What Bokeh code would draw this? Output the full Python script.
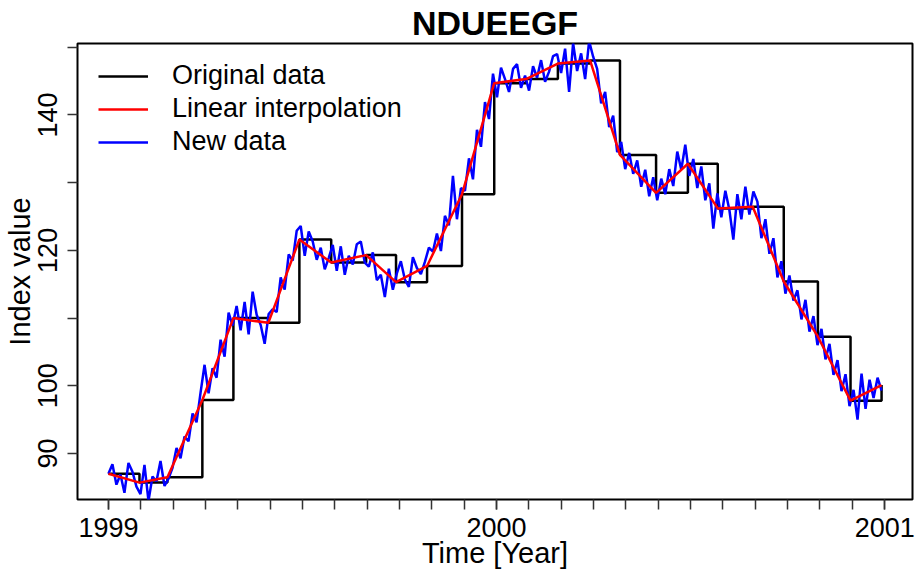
import numpy as np
from bokeh.plotting import figure
from bokeh.models import FixedTicker, Legend, LegendItem, Range1d
from bokeh.embed import file_html
from bokeh.resources import INLINE

# Monthly index observations (decimal year, index value)
orig_time = [1999.000, 1999.080, 1999.152, 1999.242, 1999.322, 1999.412, 1999.492,
             1999.574, 1999.664, 1999.741, 1999.821, 1999.911, 1999.994, 2000.076,
             2000.158, 2000.241, 2000.318, 2000.411, 2000.493, 2000.570, 2000.660,
             2000.740, 2000.828, 2000.912, 2000.992]
orig_value = [87.0, 85.7, 86.5, 97.9, 110.0, 109.3, 121.6, 118.2, 119.3, 115.3,
              117.7, 128.3, 144.7, 145.3, 147.6, 148.06, 134.1, 128.5, 132.8, 126.2,
              126.45, 115.4, 107.25, 97.8, 100.1]

# High-frequency series, evenly spaced between the first and last observation
new_value = [
    87.0, 88.4, 85.4, 86.9, 84.2, 88.6, 87.3, 85.1, 84.0, 88.3,
    83.0, 86.6, 85.9, 88.9, 85.2, 86.3, 87.9, 90.8, 89.3, 92.5,
    91.8, 95.9, 94.6, 99.0, 103.1, 98.9, 102.6, 101.2, 106.8, 104.3,
    110.8, 108.9, 111.8, 108.2, 112.4, 107.6, 113.9, 110.5, 109.0, 106.2,
    110.6, 111.3, 110.9, 116.0, 114.2, 119.4, 118.5, 122.9, 123.6, 119.2,
    122.8, 121.3, 118.6, 120.4, 117.2, 118.9, 120.8, 117.0, 120.6, 116.4,
    119.2, 117.9, 120.9, 121.3, 118.2, 117.6, 119.7, 115.6, 116.4, 113.1,
    117.3, 114.2, 116.6, 118.4, 115.7, 114.6, 119.0, 117.4, 116.5, 118.3,
    120.4, 119.8, 122.5, 119.9, 125.1, 123.7, 131.0, 124.6, 129.2, 128.8,
    133.6, 130.5, 137.8, 135.3, 141.9, 139.4, 146.1, 142.6, 147.0, 145.3,
    143.4, 146.8, 147.5, 144.0, 145.8, 143.6, 147.2, 145.5, 148.1, 144.9,
    146.4, 148.7, 149.0, 146.2, 149.8, 143.4, 150.6, 146.5, 149.1, 145.3,
    150.9, 148.6, 146.8, 141.7, 143.4, 138.2, 139.9, 134.5, 136.0, 132.0,
    134.4, 131.3, 133.3, 129.4, 131.9, 128.0, 130.8, 127.4, 130.6, 128.3,
    132.0, 129.5, 134.6, 131.9, 135.6, 131.0, 133.5, 129.2, 132.4, 127.4,
    129.9, 123.2, 128.4, 124.9, 128.8, 126.0, 121.6, 128.3, 124.6, 129.4,
    125.3, 128.7, 127.2, 121.8, 124.6, 119.5, 121.8, 116.0, 118.4, 113.6,
    116.3, 112.6, 114.1, 109.8, 112.7, 108.0, 110.3, 106.0, 108.4, 103.9,
    106.2, 101.6, 103.8, 99.2, 101.7, 97.0, 99.4, 95.0, 101.8, 96.6,
    100.9, 98.2, 101.2, 99.3,
]
new_time = np.linspace(orig_time[0], orig_time[-1], len(new_value))

title_text = "NDUEEGF"
x_label = "Time [Year]"
y_label = "Index value"
x_ticks = [1999, 2000, 2001]
x_minor = [1999 + m / 12 for m in range(25)]
y_ticks = [90, 100, 120, 140]
y_minor = [110, 130, 150]
legend_labels = ["Original data", "Linear interpolation", "New data"]

FONT = "Liberation Sans"


def padded(lo, hi, frac=0.04):
    span = hi - lo
    return Range1d(lo - frac * span, hi + frac * span)


p = figure(width=917, height=572, output_backend="svg", toolbar_location=None,
           x_range=padded(min(orig_time), max(orig_time)),
           y_range=padded(min(orig_value), max(orig_value)),
           min_border_left=77, min_border_right=5, min_border_top=43,
           min_border_bottom=73, title=title_text)

p.background_fill_color = "white"
p.border_fill_color = "white"
p.outline_line_color = "black"
p.outline_line_width = 2
p.grid.visible = False

p.title.align = "center"
p.title.text_font = FONT
p.title.text_font_size = "34px"
p.title.text_font_style = "bold"
p.title.text_color = "black"
p.title.standoff = 3
p.title.offset = 0

for ax in (p.xaxis[0], p.yaxis[0]):
    ax.axis_line_color = None
    ax.major_tick_in = 0
    ax.minor_tick_in = 0
    ax.major_tick_out = 10
    ax.minor_tick_out = 10
    ax.major_tick_line_color = "#333333"
    ax.minor_tick_line_color = "#333333"
    ax.major_tick_line_width = 1.5
    ax.minor_tick_line_width = 1.5
    ax.major_label_text_font = FONT
    ax.major_label_text_font_size = "27px"
    ax.major_label_text_color = "black"
    ax.axis_label_text_font = FONT
    ax.axis_label_text_font_size = "29px"
    ax.axis_label_text_font_style = "normal"
    ax.axis_label_text_color = "black"

p.xaxis.ticker = FixedTicker(ticks=x_ticks, minor_ticks=x_minor)
p.xaxis.axis_label = x_label
p.xaxis.major_label_standoff = 8
p.xaxis.axis_label_standoff = -3

p.yaxis.ticker = FixedTicker(ticks=y_ticks, minor_ticks=y_minor)
p.yaxis.axis_label = y_label
p.yaxis.major_label_orientation = "vertical"
p.yaxis.major_label_standoff = 10
p.yaxis.axis_label_standoff = 0

r_orig = p.step(orig_time, orig_value, mode="after", line_color="black", line_width=2.5)
r_new = p.line(new_time, new_value, line_color="#0000FF", line_width=2.5)
r_lin = p.line(orig_time, orig_value, line_color="#FF0000", line_width=2.5)

legend = Legend(items=[LegendItem(label=legend_labels[0], renderers=[r_orig]),
                       LegendItem(label=legend_labels[1], renderers=[r_lin]),
                       LegendItem(label=legend_labels[2], renderers=[r_new])],
                location=(21, 342))
legend.border_line_color = None
legend.background_fill_alpha = 0
legend.padding = 0
legend.margin = 0
legend.spacing = 2
legend.glyph_width = 50
legend.glyph_height = 30
legend.label_height = 30
legend.label_standoff = 24
legend.label_text_font = FONT
legend.label_text_font_size = "27px"
legend.label_text_color = "black"
p.add_layout(legend)

open("out.html", "w").write(file_html(p, INLINE))
